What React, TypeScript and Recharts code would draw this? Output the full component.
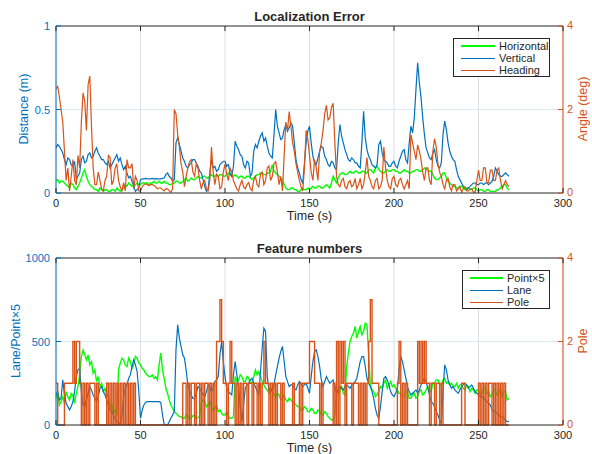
import React from "react";
import { LineChart, Line, XAxis, YAxis, CartesianGrid, ReferenceLine } from "recharts";

const xTicks = [0, 50, 100, 150, 200, 250, 300];

// Localization error
const horizontalErr = [
  0.07, 0.08, 0.06, 0.07, 0.07, 0.06, 0.05, 0.04, 0.03, 0.06,
  0.05, 0.03, 0.02, 0.04, 0.06, 0.09, 0.12, 0.14, 0.1, 0.07,
  0.05, 0.04, 0.03, 0.02, 0.02, 0.01, 0.03, 0.02, 0.01, 0.02,
  0.02, 0.01, 0.01, 0.02, 0.02, 0.01, 0.03, 0.02, 0.01, 0.02,
  0.03, 0.05, 0.04, 0.06, 0.05, 0.04, 0.04, 0.05, 0.06, 0.05,
  0.05, 0.06, 0.06, 0.06, 0.06, 0.05, 0.06, 0.06, 0.07, 0.06,
  0.06, 0.07, 0.06, 0.06, 0.07, 0.06, 0.06, 0.05, 0.05, 0.06,
  0.06, 0.07, 0.07, 0.06, 0.06, 0.07, 0.08, 0.09, 0.07, 0.08,
  0.09, 0.08, 0.08, 0.09, 0.1, 0.09, 0.09, 0.1, 0.1, 0.09,
  0.09, 0.1, 0.11, 0.1, 0.1, 0.11, 0.1, 0.11, 0.11, 0.1,
  0.1, 0.11, 0.12, 0.11, 0.1, 0.1, 0.11, 0.1, 0.09, 0.1,
  0.1, 0.09, 0.09, 0.1, 0.1, 0.09, 0.08, 0.09, 0.1, 0.11,
  0.11, 0.12, 0.12, 0.11, 0.11, 0.12, 0.12, 0.13, 0.17, 0.13,
  0.12, 0.11, 0.1, 0.09, 0.08, 0.05, 0.03, 0.02, 0.02, 0.03,
  0.03, 0.02, 0.02, 0.01, 0.01, 0.02, 0.03, 0.02, 0.02, 0.03,
  0.02, 0.03, 0.04, 0.03, 0.03, 0.04, 0.04, 0.03, 0.03, 0.04,
  0.05, 0.04, 0.03, 0.06, 0.1, 0.08, 0.06, 0.09, 0.11, 0.12,
  0.12, 0.11, 0.11, 0.12, 0.13, 0.12, 0.12, 0.13, 0.13, 0.12,
  0.12, 0.13, 0.13, 0.12, 0.12, 0.14, 0.14, 0.13, 0.12, 0.15,
  0.16, 0.14, 0.13, 0.12, 0.12, 0.13, 0.14, 0.13, 0.13, 0.14,
  0.14, 0.13, 0.13, 0.12, 0.12, 0.13, 0.14, 0.13, 0.13, 0.12,
  0.12, 0.13, 0.13, 0.14, 0.14, 0.13, 0.13, 0.14, 0.15, 0.14,
  0.14, 0.13, 0.13, 0.11, 0.09, 0.08, 0.08, 0.09, 0.1, 0.12,
  0.12, 0.09, 0.07, 0.06, 0.05, 0.04, 0.04, 0.03, 0.03, 0.04,
  0.04, 0.03, 0.02, 0.03, 0.03, 0.02, 0.02, 0.03, 0.03, 0.02,
  0.01, 0.02, 0.02, 0.01, 0.01, 0.02, 0.02, 0.01, 0.01, 0.01,
  0.01, 0.02, 0.02, 0.03, 0.04, 0.05, 0.05, 0.03, 0.02,
];
const verticalErr = [
  0.27, 0.29, 0.28, 0.26, 0.24, 0.2, 0.17, 0.21, 0.2, 0.17,
  0.16, 0.19, 0.08, 0.1, 0.12, 0.2, 0.22, 0.18, 0.19, 0.23,
  0.24, 0.21, 0.22, 0.25, 0.27, 0.24, 0.22, 0.2, 0.2, 0.18,
  0.17, 0.19, 0.15, 0.17, 0.19, 0.21, 0.23, 0.19, 0.21, 0.17,
  0.14, 0.16, 0.12, 0.09, 0.1, 0.07, 0.04, 0.01, 0.02, 0.03,
  0.08, 0.085, 0.085, 0.088, 0.085, 0.085, 0.085, 0.087, 0.085, 0.086,
  0.085, 0.085, 0.085, 0.088, 0.09, 0.11, 0.12, 0.1, 0.09, 0.07,
  0.08, 0.3, 0.33, 0.29, 0.25, 0.21, 0.19, 0.16, 0.15, 0.17,
  0.18, 0.2, 0.2, 0.18, 0.16, 0.13, 0.12, 0.08, 0.04, 0.01,
  0.02, 0.12, 0.2, 0.15, 0.16, 0.13, 0.14, 0.17, 0.18, 0.19,
  0.19, 0.16, 0.17, 0.12, 0.1, 0.16, 0.31, 0.28, 0.26, 0.23,
  0.22, 0.17, 0.15, 0.19, 0.18, 0.1, 0.12, 0.25, 0.29, 0.27,
  0.31, 0.34, 0.36, 0.31, 0.33, 0.28, 0.24, 0.22, 0.21, 0.35,
  0.5, 0.4, 0.36, 0.32, 0.33, 0.38, 0.41, 0.37, 0.39, 0.42,
  0.4, 0.3, 0.2, 0.15, 0.12, 0.08, 0.06, 0.18, 0.3, 0.37,
  0.4, 0.3, 0.22, 0.18, 0.17, 0.21, 0.25, 0.28, 0.27, 0.22,
  0.2, 0.17, 0.16, 0.19, 0.18, 0.15, 0.14, 0.3, 0.41, 0.34,
  0.3, 0.26, 0.23, 0.2, 0.19, 0.21, 0.2, 0.18, 0.18, 0.16,
  0.15, 0.3, 0.49, 0.33, 0.26, 0.22, 0.2, 0.17, 0.16, 0.15,
  0.17, 0.29, 0.31, 0.24, 0.2, 0.19, 0.18, 0.16, 0.16, 0.18,
  0.19, 0.16, 0.15, 0.19, 0.22, 0.25, 0.26, 0.2, 0.18, 0.3,
  0.4, 0.36, 0.45, 0.62, 0.78, 0.66, 0.57, 0.45, 0.35, 0.27,
  0.24, 0.21, 0.2, 0.24, 0.26, 0.2, 0.16, 0.15, 0.18, 0.35,
  0.43, 0.38, 0.3, 0.25, 0.22, 0.2, 0.19, 0.14, 0.1, 0.08,
  0.06, 0.04, 0.03, 0.02, 0.03, 0.04, 0.05, 0.06, 0.06, 0.05,
  0.05, 0.06, 0.06, 0.05, 0.06, 0.06, 0.05, 0.06, 0.07, 0.1,
  0.15, 0.13, 0.11, 0.1, 0.1, 0.11, 0.12, 0.11, 0.1,
];
const headingErr = [
  2.5, 2.55, 2.3, 2.0, 1.7, 1.0, 0.3, 0.6, 0.05, 0.4,
  0.8, 0.3, 0.2, 0.9, 0.6, 1.7, 2.4, 2.2, 1.5, 2.6,
  2.8, 1.6, 0.6, 0.2, 0.2, 0.5, 0.3, 0.1, 0.05, 0.3,
  0.4, 0.9, 0.85, 0.2, 0.3, 0.6, 0.7, 0.3, 0.15, 0.05,
  0.25, 0.05, 0.8, 0.6, 0.6, 0.7, 0.1, 0.4, 0.3, 0.05,
  0.05, 0.15, 0.2, 0.22, 0.2, 0.18, 0.2, 0.2, 0.18, 0.15,
  0.1, 0.12, 0.12, 0.08, 0.05, 0.1, 0.1, 0.05, 0.02, 0.1,
  2.0, 1.9, 1.4, 1.1, 0.7, 0.5, 0.15, 0.4, 0.6, 0.75,
  0.8, 0.5, 0.4, 0.7, 0.6, 0.3, 0.1, 0.25, 0.3, 0.1,
  0.05, 0.3, 1.1, 0.5, 0.2, 0.45, 0.4, 0.1, 0.15, 0.5,
  0.7, 0.45, 0.3, 0.6, 0.5, 0.3, 0.2, 0.1, 0.05, 0.2,
  0.3, 0.15, 0.1, 0.2, 0.25, 0.1, 0.05, 0.3, 0.4, 0.2,
  0.15, 0.45, 0.5, 0.2, 0.3, 0.6, 0.65, 0.3, 0.4, 0.7,
  0.75, 0.5, 0.2, 0.4, 0.05, 0.9, 1.7, 1.5, 1.95, 1.6,
  1.2, 1.0, 0.7, 0.5, 0.3, 0.15, 0.05, 0.6, 1.5, 1.3,
  0.9, 0.5, 0.3, 0.8, 0.6, 0.3, 1.0, 1.2, 1.5, 1.9,
  2.1, 1.75, 1.8, 2.05, 2.15, 1.2, 0.4, 0.2, 0.15, 0.3,
  0.35, 0.15, 0.1, 0.25, 0.3, 0.15, 0.2, 0.35, 0.1, 0.2,
  0.35, 0.1, 0.2, 0.5, 0.85, 0.4, 0.3, 0.15, 0.1, 0.3,
  0.35, 0.1, 0.15, 0.3, 1.1, 0.6, 0.3, 0.15, 0.1, 0.35,
  0.4, 0.2, 0.15, 0.3, 0.35, 0.2, 0.1, 0.2, 0.3, 0.1,
  1.4, 1.2, 1.0, 0.8, 1.15, 1.0, 0.8, 0.5, 0.3, 0.6,
  0.6, 0.3, 0.2, 1.0, 1.3, 1.1, 0.7, 0.5, 0.4, 0.2,
  0.1, 0.3, 0.35, 0.15, 0.05, 0.2, 0.2, 0.05, 0.1, 0.15,
  0.02, 0.1, 0.15, 0.05, 0.05, 0.1, 0.1, 0.02, 0.02, 0.3,
  0.55, 0.3, 0.3, 0.6, 0.6, 0.25, 0.25, 0.55, 0.55, 0.3,
  0.3, 0.55, 0.6, 0.3, 0.1, 0.2, 0.3, 0.2, 0.15,
];

// Feature numbers
const pointX5 = [
  160, 200, 120, 140, 170, 130, 200, 170, 150, 190,
  180, 130, 190, 230, 300, 410, 450, 420, 390, 420,
  360, 380, 310, 330, 260, 290, 230, 250, 200, 220,
  170, 190, 110, 120, 70, 90, 60, 330, 370, 400,
  390, 360, 350, 400, 380, 340, 360, 410, 400, 370,
  360, 340, 330, 310, 300, 290, 290, 300, 280, 290,
  270, 360, 430, 330, 280, 220, 190, 150, 120, 100,
  80, 70, 60, 50, 50, 40, 40, 60, 55, 35,
  40, 55, 60, 40, 45, 50, 130, 150, 140, 110,
  120, 140, 110, 90, 100, 120, 80, 90, 70, 60,
  60, 80, 55, 40, 40, 50, 290, 260, 270, 300,
  290, 260, 260, 290, 280, 250, 250, 290, 330, 300,
  320, 290, 260, 240, 220, 210, 190, 220, 200, 180,
  170, 190, 180, 150, 160, 180, 150, 140, 160, 150,
  140, 130, 120, 110, 110, 90, 90, 110, 100, 80,
  80, 100, 90, 70, 70, 90, 80, 60, 60, 80,
  70, 50, 40, 30, 30, 60, 210, 190, 210, 230,
  190, 180, 350, 430, 500, 530, 550, 590, 520, 560,
  590, 540, 560, 610, 600, 420, 240, 210, 200, 170,
  180, 200, 230, 220, 250, 270, 220, 240, 260, 230,
  240, 220, 210, 190, 190, 170, 170, 200, 200, 160,
  160, 180, 190, 160, 170, 200, 210, 180, 190, 210,
  230, 210, 200, 250, 250, 270, 270, 240, 240, 270,
  280, 250, 260, 240, 250, 230, 230, 250, 220, 240,
  240, 220, 210, 240, 230, 200, 220, 210, 190, 210,
  210, 180, 190, 220, 220, 190, 200, 170, 180, 210,
  210, 180, 190, 220, 170, 200, 200, 150, 160,
];
const laneCount = [
  180, 200, 150, 160, 270, 180, 130, 110, 90, 110,
  140, 200, 290, 330, 340, 200, 120, 110, 150, 190,
  230, 210, 180, 160, 140, 170, 220, 230, 200, 180,
  150, 120, 90, 80, 60, 40, 20, 10, 5, 60,
  170, 220, 240, 280, 300, 350, 390, 360, 320, 200,
  40, 90, 120, 135, 140, 140, 140, 140, 140, 140,
  140, 140, 135, 60, 5, 0, 0, 20, 40, 60,
  80, 450, 600, 520, 470, 420, 400, 330, 240, 210,
  180, 160, 160, 190, 230, 220, 200, 180, 170, 200,
  240, 230, 200, 220, 260, 270, 290, 420, 500, 380,
  290, 220, 200, 190, 180, 300, 380, 300, 230, 110,
  20, 120, 220, 240, 250, 270, 280, 250, 230, 200,
  180, 320, 460, 580, 560, 290, 210, 220, 200, 240,
  300, 350, 400, 440, 470, 380, 290, 260, 230, 240,
  240, 220, 210, 240, 260, 250, 230, 240, 250, 220,
  190, 290, 380, 440, 450, 410, 350, 270, 230, 260,
  290, 270, 250, 260, 270, 230, 190, 210, 230, 220,
  210, 230, 240, 230, 220, 240, 250, 260, 280, 330,
  380, 410, 410, 350, 280, 250, 230, 200, 160, 100,
  60, 40, 110, 200, 280, 290, 270, 240, 200, 180,
  170, 190, 220, 330, 410, 380, 330, 280, 230, 200,
  180, 190, 200, 210, 190, 210, 240, 260, 280, 260,
  220, 180, 140, 130, 110, 80, 60, 30, 10, 200,
  360, 330, 270, 240, 220, 230, 210, 200, 190, 210,
  230, 240, 250, 240, 220, 230, 240, 220, 200, 190,
  180, 170, 170, 160, 150, 140, 130, 120, 90, 80,
  80, 70, 60, 50, 50, 40, 30, 20, 20,
];
const poleCount = [
  1, 0, 0, 0, 0, 1, 1, 1, 1, 1,
  2, 1, 2, 2, 1, 0, 1, 0, 1, 0,
  1, 1, 1, 0, 1, 0, 0, 0, 0, 0,
  1, 0, 1, 0, 1, 0, 1, 0, 1, 0,
  1, 0, 1, 0, 1, 0, 1, 0, 0, 0,
  0, 0, 0, 0, 0, 0, 0, 0, 0, 0,
  0, 0, 0, 0, 0, 0, 0, 0, 0, 0,
  0, 0, 0, 0, 0, 1, 1, 0, 1, 0,
  1, 1, 0, 1, 1, 0, 1, 0, 1, 1,
  0, 1, 0, 1, 0, 2, 2, 3, 2, 1,
  1, 0, 1, 2, 1, 1, 0, 1, 0, 1,
  0, 1, 1, 0, 1, 1, 0, 1, 1, 0,
  1, 0, 1, 2, 1, 1, 0, 1, 0, 1,
  0, 1, 1, 0, 1, 0, 0, 0, 0, 0,
  1, 0, 0, 0, 1, 0, 1, 1, 1, 1,
  2, 2, 2, 1, 1, 1, 0, 1, 0, 0,
  0, 0, 0, 0, 1, 0, 2, 0, 2, 1,
  2, 0, 1, 1, 1, 0, 1, 1, 1, 0,
  1, 0, 1, 0, 1, 2, 3, 1, 1, 1,
  1, 0, 0, 0, 0, 0, 0, 0, 0, 0,
  0, 0, 1, 2, 0, 1, 0, 1, 0, 0,
  0, 0, 0, 0, 2, 1, 2, 1, 2, 1,
  1, 0, 1, 1, 0, 1, 1, 0, 1, 0,
  0, 0, 0, 0, 0, 0, 0, 0, 0, 0,
  1, 1, 0, 0, 0, 0, 0, 0, 0, 0,
  1, 0, 1, 0, 1, 0, 1, 1, 0, 1,
  0, 1, 0, 1, 0, 1, 0, 0, 0,
];

const BLUE = "#0072BD";
const ORANGE = "#D95319";
const GREEN = "#00FF00";
const DARK = "#262626";
const FONT = "'Liberation Sans', Arial, Helvetica, sans-serif";
const PLOT_H = 167;

const errorRows = verticalErr.map((v, t) => ({
  t,
  horizontal: horizontalErr[t],
  vertical: v,
  heading: headingErr[t],
}));

const featureRows = poleCount.map((p, t) => ({
  t,
  pole: p,
  point: pointX5[t],
  lane: laneCount[t],
}));

function XTick({ x, y, payload }: any) {
  return (
    <g>
      <line x1={x} x2={x} y1={y} y2={y - 5} stroke={DARK} />
      <line x1={x} x2={x} y1={y - PLOT_H} y2={y - PLOT_H + 5} stroke={DARK} />
      <text x={x} y={y + 14} textAnchor="middle" fill={DARK} fontSize={11} fontFamily={FONT}>
        {payload.value}
      </text>
    </g>
  );
}

const leftTick = (color: string) => ({ x, y, payload }: any) => (
  <g>
    <line x1={x} x2={x + 5} y1={y} y2={y} stroke={color} />
    <text x={x - 6} y={y + 4} textAnchor="end" fill={color} fontSize={11} fontFamily={FONT}>
      {payload.value}
    </text>
  </g>
);

const rightTick = (color: string) => ({ x, y, payload }: any) => (
  <g>
    <line x1={x - 5} x2={x} y1={y} y2={y} stroke={color} />
    <text x={x + 4} y={y + 3} textAnchor="start" fill={color} fontSize={11} fontFamily={FONT}>
      {payload.value}
    </text>
  </g>
);

function Caption({ text, cx, cy, color = DARK, size = 12.5, bold = false, rotate = false }: any) {
  return (
    <div
      style={{
        position: "absolute",
        left: cx,
        top: cy,
        transform: `translate(-50%, -50%)${rotate ? " rotate(-90deg)" : ""}`,
        whiteSpace: "nowrap",
        color,
        fontSize: size,
        fontWeight: bold ? "bold" : "normal",
        fontFamily: FONT,
        lineHeight: 1,
      }}
    >
      {text}
    </div>
  );
}

function LegendBox({ left, top, width, lineW, items }: any) {
  return (
    <div
      style={{
        position: "absolute",
        left,
        top,
        width,
        height: 39,
        boxSizing: "border-box",
        border: `1px solid ${DARK}`,
        background: "#fff",
        fontFamily: FONT,
        fontSize: 11,
        color: DARK,
      }}
    >
      {items.map((it: any, k: number) => (
        <div key={it.label} style={{ position: "absolute", top: 1 + k * 12, left: 0, height: 12, width: "100%" }}>
          <div
            style={{
              position: "absolute",
              left: 7,
              top: 6 - it.w / 2,
              width: lineW,
              height: it.w,
              background: it.color,
            }}
          />
          <div style={{ position: "absolute", left: lineW + 11, top: 0, lineHeight: "12px" }}>{it.label}</div>
        </div>
      ))}
    </div>
  );
}

function Panel({ data, top, leftDomain, leftTicks, children }: any) {
  return (
    <div style={{ position: "absolute", left: 0, top }}>
      <LineChart width={592} height={230} data={data} margin={{ top: 26, right: 0, bottom: 0, left: 0 }}>
        <CartesianGrid yAxisId="L" horizontal={false} stroke="#dedede" />
        <XAxis
          dataKey="t"
          type="number"
          domain={[0, 300]}
          ticks={xTicks}
          interval={0}
          height={37}
          stroke={DARK}
          tickLine={false}
          tickSize={0}
          tickMargin={0}
          tick={XTick}
        />
        <YAxis
          yAxisId="L"
          domain={leftDomain}
          ticks={leftTicks}
          interval={0}
          width={56}
          stroke={BLUE}
          tickLine={false}
          tickSize={0}
          tickMargin={0}
          tick={leftTick(BLUE)}
        />
        <YAxis
          yAxisId="R"
          orientation="right"
          domain={[0, 4]}
          ticks={[0, 2, 4]}
          interval={0}
          width={29}
          stroke={ORANGE}
          tickLine={false}
          tickSize={0}
          tickMargin={0}
          tick={rightTick(ORANGE)}
        />
        <ReferenceLine yAxisId="L" y={leftTicks[1]} stroke="#d9eaf5" />
        {children}
        <ReferenceLine yAxisId="L" y={leftTicks[2]} stroke={DARK} />
      </LineChart>
    </div>
  );
}

export default function App() {
  return (
    <div
      style={{
        position: "absolute",
        left: 0,
        top: 0,
        width: 592,
        height: 454,
        overflow: "hidden",
        background: "#fff",
        fontFamily: FONT,
      }}
    >
      <Panel data={errorRows} top={0} leftDomain={[0, 1]} leftTicks={[0, 0.5, 1]}>
        <Line yAxisId="L" dataKey="horizontal" stroke={GREEN} strokeWidth={1.4} dot={false} isAnimationActive={false} />
        <Line yAxisId="L" dataKey="vertical" stroke={BLUE} strokeWidth={1.2} dot={false} isAnimationActive={false} />
        <Line yAxisId="R" dataKey="heading" stroke={ORANGE} strokeWidth={1.2} dot={false} isAnimationActive={false} />
      </Panel>
      <Panel data={featureRows} top={232} leftDomain={[0, 1000]} leftTicks={[0, 500, 1000]}>
        <Line yAxisId="L" dataKey="point" stroke={GREEN} strokeWidth={1.4} dot={false} isAnimationActive={false} />
        <Line yAxisId="L" dataKey="lane" stroke={BLUE} strokeWidth={1.2} dot={false} isAnimationActive={false} />
        <Line yAxisId="R" dataKey="pole" type="stepAfter" stroke={ORANGE} strokeWidth={1.4} dot={false} isAnimationActive={false} />
      </Panel>

      <Caption text="Localization Error" cx={309.5} cy={16} size={13} bold />
      <Caption text="Distance (m)" cx={24} cy={109} color={BLUE} rotate />
      <Caption text="Angle (deg)" cx={583} cy={109} color={ORANGE} rotate />
      <Caption text="Time (s)" cx={309.5} cy={216} />

      <Caption text="Feature numbers" cx={309.5} cy={248} size={13} bold />
      <Caption text="Lane/Point×5" cx={16} cy={341} color={BLUE} rotate />
      <Caption text="Pole" cx={583} cy={341} color={ORANGE} rotate />
      <Caption text="Time (s)" cx={309.5} cy={448} />

      <LegendBox
        left={453}
        top={38}
        width={97}
        lineW={34}
        items={[
          { label: "Horizontal", color: GREEN, w: 2 },
          { label: "Vertical", color: BLUE, w: 1 },
          { label: "Heading", color: ORANGE, w: 1 },
        ]}
      />
      <LegendBox
        left={462}
        top={270}
        width={88}
        lineW={33}
        items={[
          { label: "Point×5", color: GREEN, w: 2 },
          { label: "Lane", color: BLUE, w: 1 },
          { label: "Pole", color: ORANGE, w: 1 },
        ]}
      />
    </div>
  );
}
